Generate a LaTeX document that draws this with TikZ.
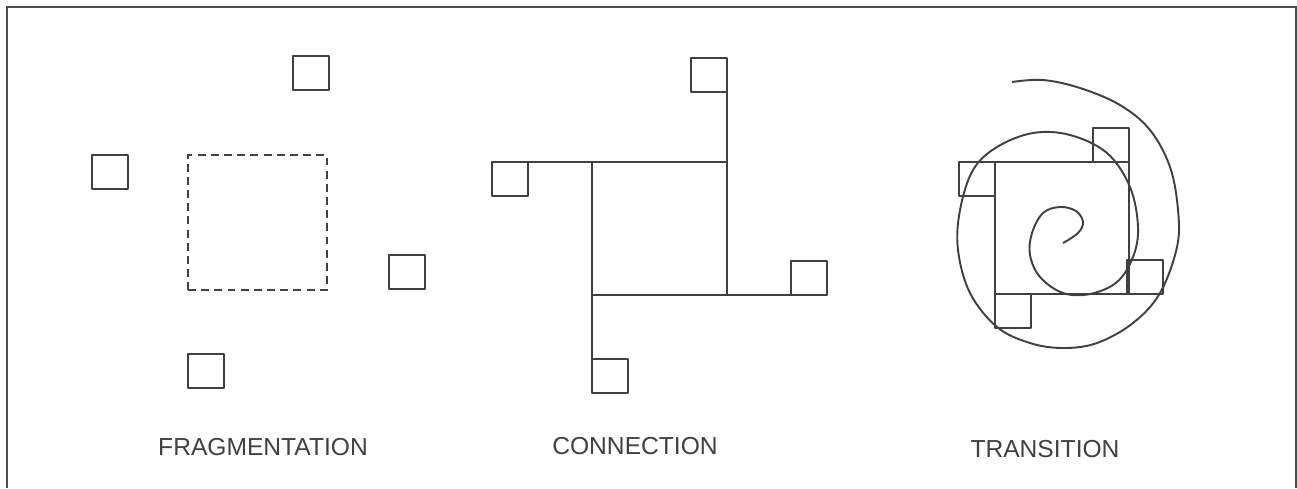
\documentclass[tikz,border=0pt]{standalone}
\usepackage{fontspec}
\setmainfont{Liberation Sans}
\usetikzlibrary{calc}
\definecolor{InkClr}{rgb}{0.25,0.25,0.25}
\definecolor{FrameClr}{rgb}{0.3,0.3,0.3}

\begin{document}
\begin{tikzpicture}[x=0.02cm,y=-0.02cm,
  ink/.style={line width=1.1pt,color=InkClr,line join=round},
  sq/.style={ink,draw,rectangle,minimum width=0.72cm,minimum height=0.68cm,inner sep=0pt,outer sep=0pt},
  dashbox/.style={draw,rectangle,line width=1.4pt,color=InkClr,dash pattern=on 4.5pt off 3pt,
    minimum width=2.78cm,minimum height=2.7cm,inner sep=0pt,outer sep=0pt},
  caption/.style={font=\fontsize{14}{16}\selectfont,text=InkClr,inner sep=0pt}]

\useasboundingbox (0,0) rectangle (1297,488);
\draw[line width=1.2pt,color=FrameClr] (7,488) -- (7,7) -- (1296,7) -- (1296,488);

\node[sq] (ftop) at (311,73) {};
\node[sq] (fleft) at (110,172) {};
\node[sq] (fright) at (407,272) {};
\node[sq] (fbot) at (206,371) {};
\node[dashbox] (fmid) at (257.5,222.5) {};
\node[caption] (flab) at (263,447) {FRAGMENTATION};

\node[sq,anchor=south east] (ctop) at (727,92) {};
\node[sq,anchor=north west] (cleft) at (492,162) {};
\node[sq,anchor=south east] (cright) at (827,295) {};
\node[sq,anchor=south west] (cbot) at (592,393) {};
\draw[ink] (cleft.north west) -- (ctop.south east |- cleft.north west);
\draw[ink] (ctop.south east) -- (ctop.south east |- cright.south east);
\draw[ink] (cbot.south west |- cright.south east) -- (cright.south east);
\draw[ink] (cbot.south west |- cleft.north west) -- (cbot.south west);
\node[caption] (clab) at (635,446) {CONNECTION};

\node[sq,anchor=north east] (tleft) at (995,162) {};
\node[sq,anchor=south east] (ttop) at (1129,162) {};
\node[sq,anchor=south east] (tright) at (1163,294) {};
\node[sq,anchor=north west] (tbot) at (995,294) {};
\draw[ink] (tleft.north west) -- (ttop.south east);
\draw[ink] (ttop.south east) -- (ttop.south east |- tright.south east);
\draw[ink] (tbot.north west) -- (tright.south east);
\draw[ink] (tleft.north east) -- (tbot.south west);
\draw[ink] plot[smooth,tension=0.6] coordinates {(1063,243) (1078,233) (1083,222) (1076,211)
  (1060,207) (1043,213) (1032,233) (1030,255) (1040,277) (1063,293) (1090,294) (1117,282)
  (1133,257) (1138,227) (1130,187) (1107,153) (1070,135) (1033,133) (997,147) (973,170)
  (960,210) (958,250) (970,293) (997,327) (1030,343) (1063,348) (1097,343) (1133,323)
  (1160,293) (1177,247) (1178,210) (1170,167) (1150,130) (1120,105) (1080,88) (1043,80) (1012,82)};
\node[caption] (tlab) at (1045,449) {TRANSITION};

\end{tikzpicture}
\end{document}
